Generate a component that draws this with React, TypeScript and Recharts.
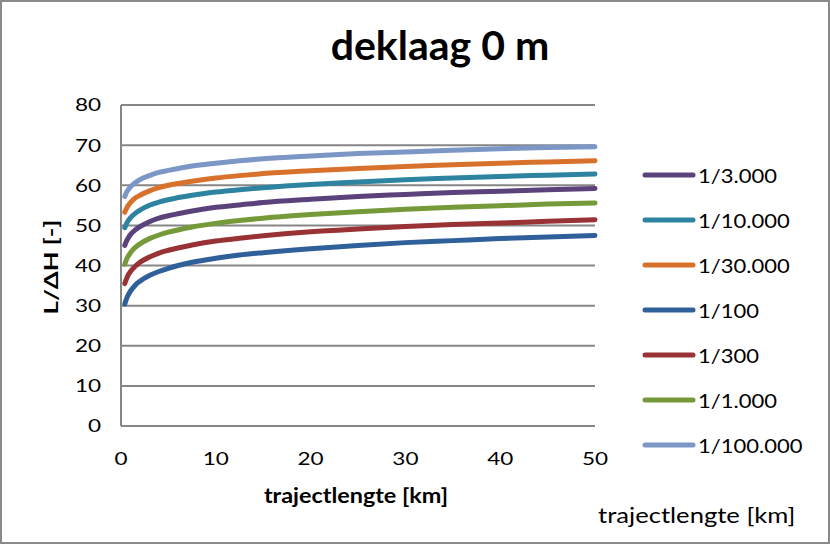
import React from "react";
import { LineChart, Line, XAxis, YAxis, CartesianGrid, Legend } from "recharts";

const xKm = [0.4, 0.6, 0.8, 1, 1.5, 2, 3, 4, 5, 7.5, 10, 12.5, 15, 20, 25, 30, 35, 40, 45, 50];
const r100 = [30.4, 31.8, 32.8, 33.6, 35.1, 36.1, 37.5, 38.5, 39.3, 40.8, 41.8, 42.6, 43.2, 44.2, 45.0, 45.7, 46.2, 46.7, 47.1, 47.5];
const r300 = [35.5, 36.8, 37.8, 38.5, 39.8, 40.8, 42.1, 43.1, 43.8, 45.1, 46.1, 46.8, 47.4, 48.4, 49.1, 49.7, 50.2, 50.6, 51.0, 51.4];
const r1000 = [40.3, 41.6, 42.5, 43.2, 44.5, 45.4, 46.7, 47.6, 48.3, 49.6, 50.5, 51.2, 51.8, 52.7, 53.4, 54.0, 54.5, 54.9, 55.3, 55.6];
const r3000 = [45.0, 46.2, 47.0, 47.7, 48.9, 49.7, 50.9, 51.8, 52.4, 53.6, 54.5, 55.1, 55.7, 56.5, 57.2, 57.7, 58.2, 58.5, 58.9, 59.2];
const r10000 = [49.4, 50.5, 51.3, 51.9, 53.0, 53.8, 55.0, 55.8, 56.4, 57.5, 58.3, 58.9, 59.4, 60.2, 60.8, 61.4, 61.8, 62.2, 62.5, 62.8];
const r30000 = [53.3, 54.3, 55.1, 55.7, 56.8, 57.5, 58.6, 59.4, 60.0, 61.0, 61.8, 62.4, 62.9, 63.6, 64.2, 64.7, 65.1, 65.5, 65.8, 66.1];
const r100000 = [57.2, 58.3, 59.0, 59.6, 60.6, 61.4, 62.4, 63.2, 63.7, 64.8, 65.5, 66.1, 66.6, 67.3, 67.9, 68.3, 68.7, 69.1, 69.4, 69.6];

const xTicks = [0, 10, 20, 30, 40, 50];
const yTicks = [0, 10, 20, 30, 40, 50, 60, 70, 80];

const seriesNames = ["1/3.000", "1/10.000", "1/30.000", "1/100", "1/300", "1/1.000", "1/100.000"];
const seriesValues = [r3000, r10000, r30000, r100, r300, r1000, r100000];
const seriesKeys = ["s3000", "s10000", "s30000", "s100", "s300", "s1000", "s100000"];
const seriesColors = ["#5B427A", "#2E84A0", "#D8712C", "#30609A", "#983234", "#769A3A", "#7C96C6"];

const data = xKm.map((x, i) => {
  const row: Record<string, number> = { x };
  seriesKeys.forEach((k, j) => {
    row[k] = seriesValues[j][i];
  });
  return row;
});

const FONT = "Lato, 'Open Sans', sans-serif";
const TICK_SX = 1.25;

const YTick = (props: any) => {
  const { x, y, payload } = props;
  return (
    <text
      x={x}
      y={y}
      dy="0.36em"
      textAnchor="end"
      fontFamily={FONT}
      fontSize={18}
      fill="#000"
      transform={`translate(${x} ${y}) scale(${TICK_SX} 1) translate(${-x} ${-y})`}
    >
      {payload.value}
    </text>
  );
};

const XTick = (props: any) => {
  const { x, y, payload } = props;
  return (
    <text
      x={x}
      y={y}
      dy="0.71em"
      textAnchor="middle"
      fontFamily={FONT}
      fontSize={18}
      fill="#000"
      transform={`translate(${x} ${y}) scale(${TICK_SX} 1) translate(${-x} ${-y})`}
    >
      {payload.value}
    </text>
  );
};

const renderLegend = (props: any) => {
  const payload = [...(props.payload || [])].sort(
    (a: any, b: any) => seriesNames.indexOf(a.value) - seriesNames.indexOf(b.value)
  );
  return (
    <div style={{ fontFamily: FONT }}>
      {payload.map((p: any, i: number) => (
        <div key={i} style={{ height: 45, display: "flex", alignItems: "center" }}>
          <svg width={58} height={10} style={{ display: "block", flex: "none" }}>
            <line x1={5} y1={5} x2={53} y2={5} stroke={p.color} strokeWidth={5} strokeLinecap="round" />
          </svg>
          <span
            style={{
              fontSize: 20,
              color: "#000",
              display: "inline-block",
              transform: "scaleX(1.1)",
              transformOrigin: "left center",
              whiteSpace: "nowrap",
            }}
          >
            {p.value}
          </span>
        </div>
      ))}
    </div>
  );
};

export default function App() {
  return (
    <div
      style={{
        position: "absolute",
        left: 0,
        top: 0,
        width: 830,
        height: 544,
        background: "#fff",
        boxSizing: "border-box",
        border: "2px solid #8a8a8a",
        overflow: "hidden",
      }}
    >
      <div style={{ position: "absolute", left: -2, top: -2 }}>
        <LineChart
          width={830}
          height={544}
          data={data}
          margin={{ top: 105, right: 235, bottom: 88, left: 61 }}
        >
          <CartesianGrid vertical={false} stroke="#868686" strokeWidth={2} />
          <XAxis
            dataKey="x"
            type="number"
            domain={[0, 50]}
            ticks={xTicks}
            height={30}
            axisLine={{ stroke: "#868686", strokeWidth: 2 }}
            tickLine={false}
            tickSize={0}
            tickMargin={26}
            tick={<XTick />}
          />
          <YAxis
            type="number"
            domain={[0, 80]}
            ticks={yTicks}
            width={60}
            axisLine={{ stroke: "#868686", strokeWidth: 2 }}
            tickLine={false}
            tickSize={0}
            tickMargin={20}
            tick={<YTick />}
          />
          <Legend
            layout="vertical"
            align="center"
            verticalAlign="middle"
            content={renderLegend}
            wrapperStyle={{ left: 640, top: 152, width: 185 }}
          />
          {seriesKeys.map((k, j) => (
            <Line
              key={k}
              dataKey={k}
              name={seriesNames[j]}
              type="monotone"
              stroke={seriesColors[j]}
              strokeWidth={5}
              strokeLinecap="round"
              dot={false}
              activeDot={false}
              isAnimationActive={false}
            />
          ))}
        </LineChart>
      </div>
      <svg
        width={830}
        height={544}
        style={{ position: "absolute", left: -2, top: -2, pointerEvents: "none" }}
      >
        <text x={440} y={60} textAnchor="middle" fontFamily={FONT} fontWeight="bold" fontSize={41} fill="#000">
          deklaag 0 m
        </text>
        <text
          x={356}
          y={503}
          textAnchor="middle"
          fontFamily={FONT}
          fontWeight="bold"
          fontSize={20}
          fill="#000"
          transform="translate(356 503) scale(1.17 1) translate(-356 -503)"
        >
          trajectlengte [km]
        </text>
        <text
          x={58}
          y={267}
          textAnchor="middle"
          fontFamily={FONT}
          fontWeight="bold"
          fontSize={19}
          fill="#000"
          transform="rotate(-90 58 267) translate(58 267) scale(1.35 1) translate(-58 -267)"
        >
          L/ΔH [-]
        </text>
        <text
          x={598}
          y={523}
          fontFamily={FONT}
          fontSize={21}
          fill="#000"
          transform="translate(598 523) scale(1.22 1) translate(-598 -523)"
        >
          trajectlengte [km]
        </text>
      </svg>
    </div>
  );
}
